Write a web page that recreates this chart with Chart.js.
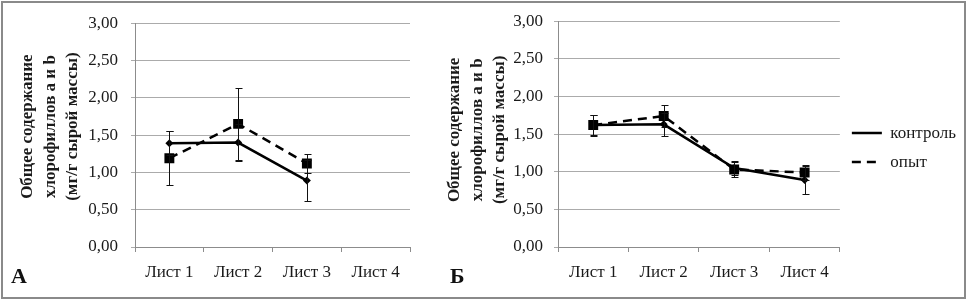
<!DOCTYPE html>
<html lang="ru">
<head>
    <meta charset="UTF-8">
    <title>Общее содержание хлорофиллов</title>
    <script src="https://cdn.jsdelivr.net/npm/chart.js"></script>
    <style>
        body {
            margin: 0;
            background: #fff;
        }
        #wrap {
            position: relative;
            width: 966px;
            height: 299px;
            overflow: hidden;
        }
        #frame {
            position: absolute;
            left: 1px;
            top: 1px;
            width: 961px;
            height: 294px;
            border: 2px solid #8a8a8a;
            pointer-events: none;
        }
        canvas {
            position: absolute;
            top: 0;
        }
        .panel-label {
            position: absolute;
            top: 265px;
            font-family: "Liberation Serif", "Times New Roman", serif;
            font-weight: bold;
            font-size: 22px;
            line-height: 22px;
            color: #111;
        }
    </style>
</head>
<body>
    <div id="wrap">
        <canvas id="chartA" width="445" height="299" style="left:0"></canvas>
        <canvas id="chartB" width="526" height="299" style="left:440px"></canvas>
        <div class="panel-label" style="left:11px">А</div>
        <div class="panel-label" style="left:450px">Б</div>
        <div id="frame"></div>
    </div>

    <script>
        // Categories and values
        const leaves = ['Лист 1', 'Лист 2', 'Лист 3', 'Лист 4'];
        const seriesNames = ['контроль', 'опыт'];
        const yTitle = ['Общее содержание', 'хлорофиллов a и b', '(мг/г сырой массы)'];

        // panel А
        const controlA = [1.39, 1.40, 0.89, null];
        const controlAErr = [0.16, 0.25, 0.27, null];
        const opytA = [1.19, 1.65, 1.12, null];
        const opytAErr = [0.36, 0.48, 0.13, null];

        // panel Б
        const controlB = [1.62, 1.63, 1.05, 0.89];
        const controlBErr = [0.14, 0.15, 0.09, 0.18];
        const opytB = [1.62, 1.74, 1.03, 0.99];
        const opytBErr = [0.13, 0.15, 0.10, 0.10];

        Chart.defaults.font.family = '"Liberation Serif", "Times New Roman", serif';
        Chart.defaults.color = '#1a1a1a';

        // draws the vertical error bars through the chart's own scales
        const errorBars = {
            id: 'errorBars',
            afterDatasetsDraw(chart) {
                const ctx = chart.ctx;
                const xs = chart.scales.x, ys = chart.scales.y;
                chart.data.datasets.forEach(ds => {
                    if (!ds.errors) return;
                    ds.data.forEach((v, i) => {
                        const e = ds.errors[i];
                        if (v == null || e == null) return;
                        const px = Math.round(xs.getPixelForValue(i)) + 0.5;
                        const top = Math.round(ys.getPixelForValue(v + e)) + 0.5;
                        const bot = Math.round(ys.getPixelForValue(v - e)) + 0.5;
                        ctx.save();
                        ctx.strokeStyle = '#111';
                        ctx.lineWidth = 1;
                        ctx.beginPath();
                        ctx.moveTo(px, top); ctx.lineTo(px, bot);
                        ctx.moveTo(px - 3, top); ctx.lineTo(px + 4, top);
                        ctx.moveTo(px - 3, bot); ctx.lineTo(px + 4, bot);
                        ctx.stroke();
                        ctx.restore();
                    });
                });
            }
        };

        function makeChart(id, control, controlErr, opyt, opytErr, cfg) {
            // leading spaces nudge the rotated axis title a little upwards, as in the original
            const title = yTitle.map(t => ' '.repeat(cfg.titleShift) + t);
            return new Chart(document.getElementById(id), {
                type: 'line',
                data: {
                    labels: leaves,
                    datasets: [
                        {
                            label: seriesNames[0],
                            data: control,
                            errors: controlErr,
                            borderColor: '#000',
                            backgroundColor: '#000',
                            borderWidth: 2.5,
                            pointStyle: 'rectRot',
                            pointRadius: 4,
                            pointBorderWidth: 0,
                            tension: 0
                        },
                        {
                            label: seriesNames[1],
                            data: opyt,
                            errors: opytErr,
                            borderColor: '#000',
                            backgroundColor: '#000',
                            borderWidth: 2.5,
                            borderDash: [9, 6],
                            pointStyle: 'rect',
                            pointRadius: 7,
                            pointBorderWidth: 0,
                            tension: 0
                        }
                    ]
                },
                options: {
                    responsive: false,
                    animation: false,
                    layout: { padding: cfg.padding },
                    plugins: {
                        tooltip: { enabled: false },
                        legend: cfg.legend
                    },
                    scales: {
                        x: {
                            offset: true,
                            afterFit: s => { s.height = 52; },
                            grid: {
                                offset: true,
                                drawOnChartArea: false,
                                tickLength: 5,
                                color: '#8c8c8c'
                            },
                            border: { color: '#8c8c8c' },
                            ticks: { font: { size: 17 }, padding: 10, maxRotation: 0 }
                        },
                        y: {
                            min: 0,
                            max: 3,
                            afterFit: s => { s.width = cfg.yWidth; },
                            grid: { color: '#ababab', tickLength: 4 },
                            border: { color: '#8c8c8c' },
                            ticks: {
                                stepSize: 0.5,
                                font: { size: 17 },
                                padding: cfg.tickPad,
                                callback: v => v.toFixed(2).replace('.', ',')
                            },
                            title: {
                                display: true,
                                text: title,
                                font: { size: 17, weight: 'bold', lineHeight: 1.3 },
                                padding: { top: cfg.titlePad, bottom: 0 }
                            }
                        }
                    }
                },
                plugins: [errorBars]
            });
        }

        makeChart('chartA', controlA, controlAErr, opytA, opytAErr, {
            padding: { top: 16, right: 35, bottom: 0, left: 0 },
            yWidth: 135,
            tickPad: 13,
            titlePad: 17,
            titleShift: 4,
            legend: { display: false }
        });

        makeChart('chartB', controlB, controlBErr, opytB, opytBErr, {
            padding: { top: 15, right: 0, bottom: 0, left: 0 },
            yWidth: 118,
            tickPad: 11,
            titlePad: 4,
            titleShift: 2,
            legend: {
                display: true,
                position: 'right',
                fullSize: false,
                title: { display: true, text: ' ', font: { size: 10 }, padding: 7.5 },
                labels: {
                    usePointStyle: true,
                    pointStyleWidth: 30,
                    boxHeight: 8,
                    padding: 12,
                    font: { size: 17 },
                    color: '#1a1a1a',
                    generateLabels: chart => Chart.defaults.plugins.legend.labels.generateLabels(chart)
                        .map(item => Object.assign(item, {
                            pointStyle: 'line',
                            lineWidth: 2.5,
                            fillStyle: '#000',
                            strokeStyle: '#000',
                            lineDash: chart.data.datasets[item.datasetIndex].borderDash || []
                        }))
                }
            }
        });
    </script>
</body>
</html>
